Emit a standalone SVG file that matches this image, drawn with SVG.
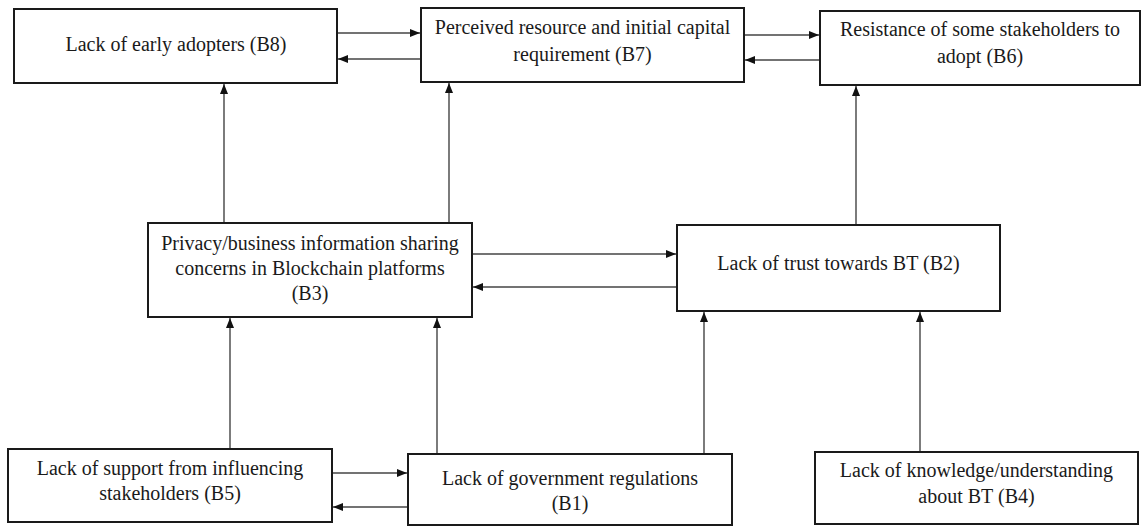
<svg xmlns="http://www.w3.org/2000/svg" width="1142" height="526" viewBox="0 0 1142 526">
<style>
.box{fill:#fff;stroke:#1a1a1a;stroke-width:2}
.t{font-family:'Liberation Serif','Times New Roman',Times,Tinos,'Noto Serif','DejaVu Serif',serif;font-size:20px;fill:#1a1a1a;text-anchor:middle}
.c{stroke:#444;stroke-width:1.4;fill:none;marker-end:url(#ah)}
</style>
<defs>
<marker id="ah" viewBox="0 0 10 10" refX="10" refY="5" markerWidth="10" markerHeight="10" markerUnits="userSpaceOnUse" orient="auto">
<path d="M0,1 L10,5 L0,9 Z" fill="#111"/>
</marker>
</defs>
<rect width="1142" height="526" fill="#fff"/>
<g id="connectors">
<line class="c" x1="337" y1="33" x2="420" y2="33"/>
<line class="c" x1="421" y1="59" x2="338" y2="59"/>
<line class="c" x1="744" y1="35" x2="819" y2="35"/>
<line class="c" x1="820" y1="60" x2="745" y2="60"/>
<line class="c" x1="472" y1="254" x2="676" y2="254"/>
<line class="c" x1="677" y1="287" x2="473" y2="287"/>
<line class="c" x1="332" y1="473" x2="407" y2="473"/>
<line class="c" x1="408" y1="507" x2="333" y2="507"/>
<line class="c" x1="224" y1="223" x2="224" y2="84"/>
<line class="c" x1="449" y1="223" x2="449" y2="83"/>
<line class="c" x1="856" y1="225" x2="856" y2="86"/>
<line class="c" x1="230" y1="449" x2="230" y2="318"/>
<line class="c" x1="437" y1="454" x2="437" y2="318"/>
<line class="c" x1="704" y1="454" x2="704" y2="312"/>
<line class="c" x1="920" y1="452" x2="920" y2="312"/>
</g>
<g id="B8"><rect class="box" x="14" y="9" width="323" height="74"/><text class="t" x="176" y="51">Lack of early adopters (B8)</text></g>
<g id="B7"><rect class="box" x="421" y="8" width="323" height="74"/><text class="t" x="582.5" y="34">Perceived resource and initial capital</text><text class="t" x="582.5" y="61">requirement (B7)</text></g>
<g id="B6"><rect class="box" x="820" y="11" width="320" height="74"/><text class="t" x="980" y="36">Resistance of some stakeholders to</text><text class="t" x="980" y="63">adopt (B6)</text></g>
<g id="B3"><rect class="box" x="148" y="223" width="324" height="94"/><text class="t" x="310" y="250">Privacy/business information sharing</text><text class="t" x="310" y="275">concerns in Blockchain platforms</text><text class="t" x="310" y="300">(B3)</text></g>
<g id="B2"><rect class="box" x="677" y="225" width="323" height="86"/><text class="t" x="838.5" y="270">Lack of trust towards BT (B2)</text></g>
<g id="B5"><rect class="box" x="8" y="449" width="324" height="73"/><text class="t" x="170" y="475">Lack of support from influencing</text><text class="t" x="170" y="500">stakeholders (B5)</text></g>
<g id="B1"><rect class="box" x="408" y="454" width="324" height="71"/><text class="t" x="570" y="485">Lack of government regulations</text><text class="t" x="570" y="510">(B1)</text></g>
<g id="B4"><rect class="box" x="815" y="452" width="323" height="72"/><text class="t" x="976.5" y="477">Lack of knowledge/understanding</text><text class="t" x="976.5" y="503">about BT (B4)</text></g>
</svg>
